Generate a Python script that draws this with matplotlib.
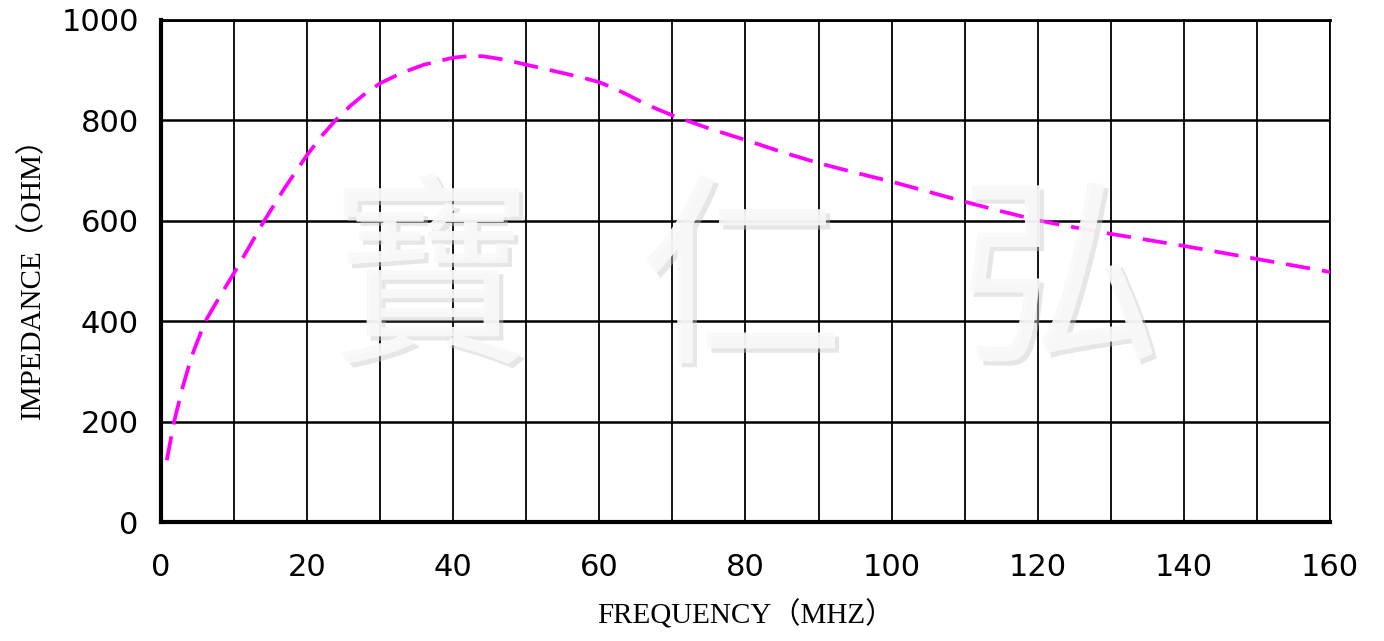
import matplotlib.pyplot as plt
import matplotlib.patheffects as pe
import numpy as np

# frequency (MHz) vs impedance (ohm)
freq = [0.8, 1.8, 3, 4.2, 6, 8, 10, 12, 14, 17, 20, 22, 24, 26, 28, 30, 33,
        36, 40, 42, 44, 47, 50, 53, 56, 58, 60, 62, 64, 66, 68, 70, 75, 80,
        85, 90, 95, 100, 105, 110, 115, 120, 125, 130, 135, 140, 145, 150,
        155, 160]
impedance = [123, 200, 270, 330, 398, 448, 496, 546, 597, 667, 731, 769, 802,
             830, 854, 874, 895, 911, 925, 928, 928, 921, 911, 901, 891, 884,
             876, 864, 850, 835, 822, 810, 784, 761, 737, 715, 696, 678, 658,
             638, 619, 601, 587, 574, 562, 550, 537, 524, 511, 498]

x_ticks = np.arange(0, 161, 20)
y_ticks = np.arange(0, 1001, 200)
watermark = ["寶", "仁", "弘"]
mark_x = [37, 79.5, 123]

fig = plt.figure(figsize=(13.84, 6.41), dpi=100)
ax = fig.add_axes([0.1163, 0.1856, 0.961 - 0.1163, 0.9688 - 0.1856])

ax.plot(freq, impedance, color="#ff00ff", linewidth=2.7, dashes=(6.5, 3.2),
        zorder=3)

ax.set_xlim(0, 160)
ax.set_ylim(0, 1000)
ax.set_xticks(x_ticks)
ax.set_yticks(y_ticks)
ax.set_xticks(np.arange(0, 161, 10), minor=True)
ax.grid(True, which="both", axis="x", color="black", linewidth=1.3)
ax.grid(True, which="major", axis="y", color="black", linewidth=1.8)
ax.tick_params(which="both", length=0)
ax.tick_params(axis="x", pad=22, labelsize=22)
ax.tick_params(axis="y", pad=16, labelsize=22)

for side in ["left", "bottom"]:
    ax.spines[side].set_linewidth(3)
ax.spines["top"].set_linewidth(2)
ax.spines["right"].set_linewidth(1.3)

label_font = ["Liberation Serif", "Noto Sans CJK SC"]
ax.set_xlabel("FREQUENCY（MHZ）", family=label_font, fontsize=21, labelpad=13)
ax.set_ylabel("IMPEDANCE（OHM）", family=label_font, fontsize=21, labelpad=11)

# watermark drawn over the grid
for ch, xm in zip(watermark, mark_x):
    ax.text(xm, 465, ch, family="Noto Sans CJK TC", fontsize=148,
            color="#f9f9f9", alpha=0.93, ha="center", va="center", zorder=4,
            path_effects=[pe.SimplePatchShadow(offset=(3, -3),
                                               shadow_rgbFace="#c8c8c8",
                                               alpha=0.45),
                          pe.Normal()])

fig.savefig("out.png", dpi=100)
